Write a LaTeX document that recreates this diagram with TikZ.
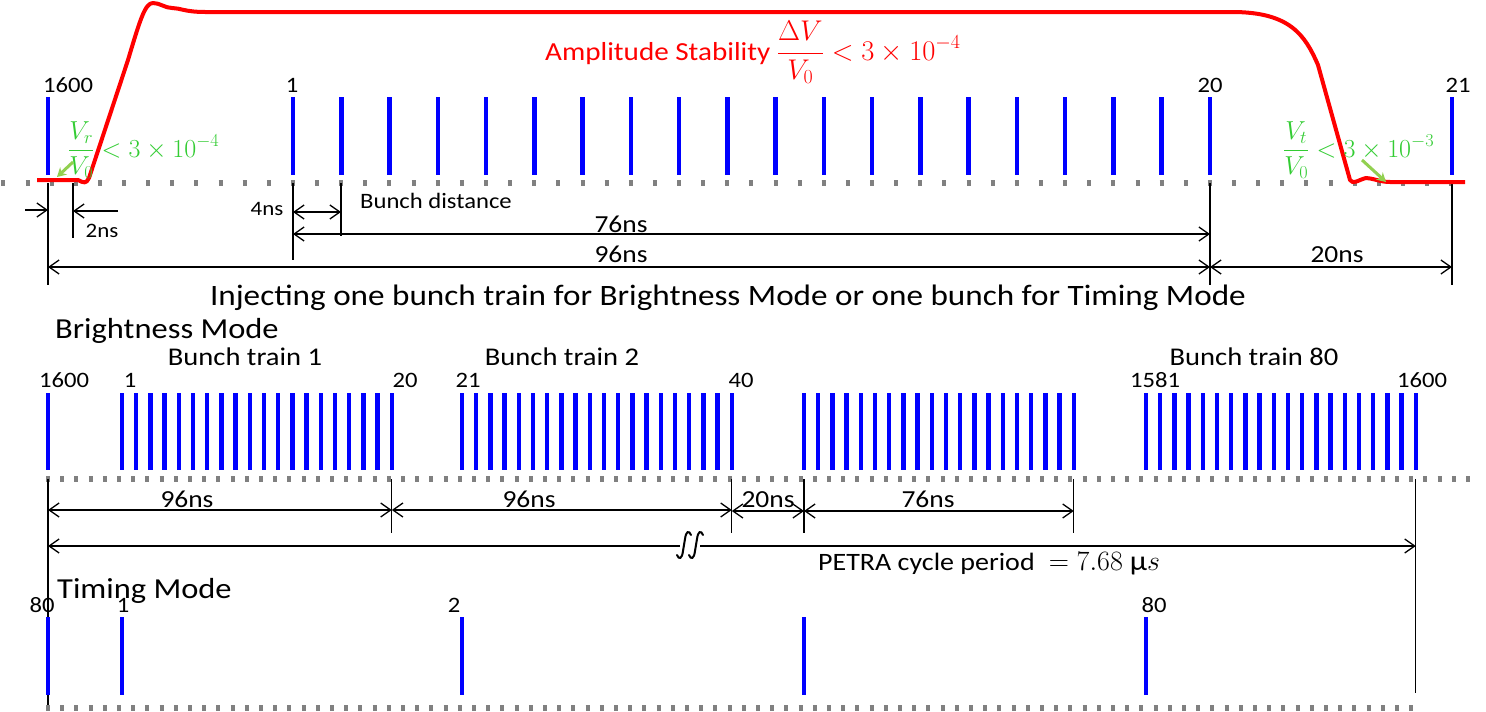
\RequirePackage{fix-cm}
\documentclass[tikz,border=0pt]{standalone}
\usepackage[no-math]{fontspec}
\setmainfont{Carlito}[FakeStretch=1.12]
\usetikzlibrary{arrows.meta}
\definecolor{ampred}{RGB}{255,0,0}
\definecolor{tolgreen}{RGB}{51,204,51}
\definecolor{tolarrowgreen}{RGB}{146,208,80}
\tikzset{
    bunch/.style={draw=blue, line width=4.5pt},
    bunchrow/.style={draw=gray, line width=5.5pt, dash pattern=on 4pt off 10.2pt},
    bunchrowwide/.style={draw=gray, line width=5.5pt, dash pattern=on 4pt off 20.13pt},
    dimline/.style={draw, line width=1.3pt},
    dimarrow/.style={dimline, {Straight Barb[length=10pt, width=14pt]}-{Straight Barb[length=10pt, width=14pt]}},
    dimtip/.style={dimline, -{Straight Barb[length=10pt, width=14pt]}},
    breakmark/.style={draw, line width=2pt, line cap=round},
    ticklabel/.style={anchor=base, inner sep=0pt, font=\fontsize{22}{26}\selectfont},
    dimlabel/.style={anchor=base, inner sep=0pt, font=\fontsize{24.5}{28}\selectfont},
    smalldimlabel/.style={anchor=base, inner sep=0pt, font=\fontsize{20.5}{24}\selectfont},
    modelabel/.style={anchor=base west, inner sep=0pt, font=\fontsize{29}{34}\selectfont},
    trainlabel/.style={anchor=base, inner sep=0pt, font=\fontsize{25.5}{30}\selectfont},
    ampline/.style={draw=ampred, line width=4pt, line join=round},
    tolerance/.style={anchor=base west, inner sep=0pt, text=tolgreen, font=\fontsize{26}{30}\selectfont},
    tolarrow/.style={draw=tolarrowgreen, line width=3pt, -{Stealth[length=9pt, width=10pt]}}
}

\begin{document}
\begin{tikzpicture}[x=1pt, y=-1pt]
    \useasboundingbox (0,0) rectangle (1486,712);

    % injecting one bunch train
    \draw[bunchrowwide] (1.4,183) -- (1466,183);
    \foreach \n/\x in {m1600/48, m2ns/73, m1/293, m2/341, m20/1210, m21/1452}
        \coordinate (\n) at (\x,183);
    \foreach \n/\len in {m1600/102, m2ns/55, m1/77, m2/53, m20/102, m21/102}
        \draw[dimline] (\n) -- ++(0,\len);
    \draw[bunch] (48,97) -- (48,175);
    \foreach \k in {0,...,19}
        \draw[bunch] (293+\k*48.26,97) -- (293+\k*48.26,175);
    \draw[bunch] (1452,97) -- (1452,175);
    \node[ticklabel] (n1600) at (68,92) {1600};
    \node[ticklabel] (n1) at (292,92) {1};
    \node[ticklabel] (n20) at (1210,92) {20};
    \node[ticklabel] (n21) at (1458,92) {21};

    \draw[ampline] (37,180) -- (78,180) .. controls (84,183) and (86,184) .. (89,178)
        -- (128,60) .. controls (140,20) and (145,3) .. (153,3)
        .. controls (160,3) and (165,8) .. (172,8) .. controls (180,8) and (185,12) .. (205,12)
        -- (1232,12) .. controls (1290,12) and (1305,35) .. (1318,65)
        -- (1350,180) .. controls (1353,185) and (1358,180) .. (1366,178)
        .. controls (1372,178) and (1380,182) .. (1390,182) -- (1465,182);
    \node[anchor=base west, inner sep=0pt, text=ampred, font=\fontsize{26}{30}\selectfont] (amp) at (545,60)
        {Amplitude Stability {\fontsize{28.5}{30}\selectfont$\displaystyle\frac{\Delta V}{V_0} < 3\times10^{-4}$}};

    \node[tolerance] (rise) at (68,157) {$\displaystyle\frac{V_r}{V_0} < 3\times10^{-4}$};
    \node[tolerance] (tail) at (1283,157) {$\displaystyle\frac{V_t}{V_0} < 3\times10^{-3}$};
    \coordinate (risefrom) at (73,162);
    \coordinate (riseto) at (57,177);
    \coordinate (tailfrom) at (1362,160);
    \coordinate (tailto) at (1386,182);
    \draw[tolarrow] (risefrom) -- (riseto);
    \draw[tolarrow] (tailfrom) -- (tailto);

    \coordinate (in2ns) at (25,210);
    \coordinate (out2ns) at (118,211);
    \draw[dimtip] (in2ns) -- (m1600 |- in2ns);
    \draw[dimtip] (out2ns) -- (m2ns |- out2ns);
    \draw[dimarrow] (m1 |- 0,212) -- (m2 |- 0,212);
    \draw[dimarrow] (m1 |- 0,234) -- (m20 |- 0,234);
    \draw[dimarrow] (m1600 |- 0,267) -- (m20 |- 0,267);
    \draw[dimarrow] (m20 |- 0,267) -- (m21 |- 0,267);
    \node[smalldimlabel] (l2ns) at (102,237) {2ns};
    \node[smalldimlabel] (l4ns) at (267,215) {4ns};
    \node[anchor=base west, inner sep=0pt, font=\fontsize{22}{26}\selectfont] (ldist) at (360,208) {Bunch distance};
    \node[dimlabel] (l76ns) at (621,232) {76ns};
    \node[dimlabel] (l96ns) at (621,262) {96ns};
    \node[dimlabel] (l20ns) at (1337,262) {20ns};

    \node[anchor=base, inner sep=0pt, font=\fontsize{29.6}{34}\selectfont] (inject) at (728,305)
        {Injecting one bunch train for Brightness Mode or one bunch for Timing Mode};

    % brightness mode
    \node[modelabel] (bright) at (55,338) {Brightness Mode};
    \draw[bunchrow] (46,479) -- (1478,479);
    \foreach \n/\x in {b1600/48, b20/391.8, b40/731.8, c41/804, c60/1073.8, b1600e/1415.8}
        \coordinate (\n) at (\x,479);
    \foreach \n/\len in {b1600/228, b20/54, b40/54, c41/54, c60/54, b1600e/214}
        \draw[dimline] (\n) -- ++(0,\len);
    \draw[bunch] (48,393) -- (48,470);
    \foreach \s in {122, 462, 804, 1146}
        \foreach \k in {0,...,19}
            \draw[bunch] (\s+\k*14.2,393) -- (\s+\k*14.2,470);
    \node[trainlabel] (train1) at (245,365) {Bunch train 1};
    \node[trainlabel] (train2) at (562,365) {Bunch train 2};
    \node[trainlabel] (train80) at (1254,365) {Bunch train 80};
    \node[ticklabel] (k1600) at (64,387) {1600};
    \node[ticklabel] (k1) at (130,387) {1};
    \node[ticklabel] (k20) at (405,387) {20};
    \node[ticklabel] (k21) at (468,387) {21};
    \node[ticklabel] (k40) at (741,387) {40};
    \node[ticklabel] (k1581) at (1155,387) {1581};
    \node[ticklabel] (k1600e) at (1422,387) {1600};

    \draw[dimarrow] (b1600 |- 0,510) -- (b20 |- 0,510);
    \draw[dimarrow] (b20 |- 0,510) -- (b40 |- 0,510);
    \draw[dimarrow] (b40 |- 0,511) -- (c41 |- 0,511);
    \draw[dimarrow] (c41 |- 0,511) -- (c60 |- 0,511);
    \draw[dimarrow] (b1600 |- 0,546) -- (b1600e |- 0,546);
    % break mark on the period line
    \fill[white] (676,529) rectangle (704,561);
    \foreach \c in {684,696}
        \draw[breakmark] (\c-7,555) .. controls (\c-5,560) and (\c-2,559) .. (\c-1,551)
            -- (\c+1,539) .. controls (\c+2,531) and (\c+5,530) .. (\c+7,535);
    \draw[dimline] (676,546) -- (680,546);
    \draw[dimline] (700,546) -- (704,546);
    \node[dimlabel] (d96a) at (187,507) {96ns};
    \node[dimlabel] (d96b) at (529,507) {96ns};
    \node[dimlabel] (d20) at (768,507) {20ns};
    \node[dimlabel] (d76) at (928,507) {76ns};
    \node[anchor=base west, inner sep=0pt, font=\fontsize{25}{28}\selectfont] (period) at (818,570)
        {PETRA cycle period {\fontsize{28}{30}\selectfont${}= 7.68$ μ$s$}};

    % timing mode
    \node[modelabel] (timing) at (57,598) {Timing Mode};
    \draw[bunchrow] (46,708) -- (1417,708);
    \foreach \x in {48, 122, 462, 804, 1146}
        \draw[bunch] (\x,617) -- (\x,695);
    \node[ticklabel] (s80) at (42,612) {80};
    \node[ticklabel] (s1) at (123,612) {1};
    \node[ticklabel] (s2) at (454,612) {2};
    \node[ticklabel] (s80e) at (1154,612) {80};
\end{tikzpicture}
\end{document}
